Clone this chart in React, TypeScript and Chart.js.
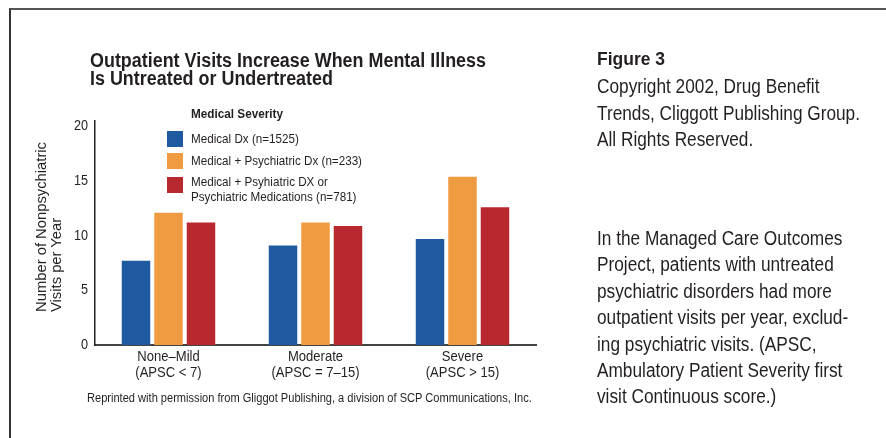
import React, { useEffect, useRef } from "react";
import { Chart, registerables } from "chart.js";

Chart.register(...registerables);

const categories: string[][] = [
  ["None\u2013Mild", "(APSC < 7)"],
  ["Moderate", "(APSC = 7\u201315)"],
  ["Severe", "(APSC > 15)"],
];
const seriesNames: string[] = [
  "Medical Dx (n=1525)",
  "Medical + Psychiatric Dx (n=233)",
  "Medical + Psyhiatric DX or\nPsychiatric Medications (n=781)",
];
const medicalDx: number[] = [7.7, 9.1, 9.7];
const medicalPsychDx: number[] = [12.1, 11.2, 15.4];
const medicalPsychDxOrMeds: number[] = [11.2, 10.9, 12.6];
const yTicks: number[] = [0, 5, 10, 15, 20];

const titleLines = ["Outpatient Visits Increase When Mental Illness", "Is Untreated or Undertreated"];
const yTitleLines = ["Number of Nonpsychiatric", "Visits per Year"];
const legendTitle = "Medical Severity";
const footnote = "Reprinted with permission from Gliggot Publishing, a division of SCP Communications, Inc.";
const figureLabel = "Figure 3";
const copyrightLines = ["Copyright 2002, Drug Benefit", "Trends, Cliggott Publishing Group.", "All Rights Reserved."];
const captionLines = [
  "In the Managed Care Outcomes",
  "Project, patients with untreated",
  "psychiatric disorders had more",
  "outpatient visits per year, exclud-",
  "ing psychiatric visits. (APSC,",
  "Ambulatory Patient Severity first",
  "visit Continuous score.)",
];

const COLORS = ["#1f5aa1", "#ef9b41", "#b8282f"];
const FAMILY = '"Liberation Sans", Arial, sans-serif';
const TEXT = "#231f20";
const CANVAS_SQUEEZE = 0.87;

let measureCtx: CanvasRenderingContext2D | null = null;
function measure(text: string, font: string): number {
  if (!measureCtx) measureCtx = document.createElement("canvas").getContext("2d");
  measureCtx!.font = font;
  return measureCtx!.measureText(text).width;
}

type BlockProps = {
  lines: string[];
  left: number;
  top: number;
  size: number;
  lineHeight: number;
  bold?: boolean;
  target: number;
  refLine?: number;
  rotate?: boolean;
};

function Block({ lines, left, top, size, lineHeight, bold, target, refLine = 0, rotate }: BlockProps) {
  const font = `${bold ? "bold " : ""}${size}px ${FAMILY}`;
  const s = target / measure(lines[refLine], font);
  return (
    <div
      style={{
        position: "absolute",
        left,
        top,
        fontFamily: FAMILY,
        fontSize: size,
        fontWeight: bold ? "bold" : "normal",
        lineHeight: `${lineHeight}px`,
        color: TEXT,
        whiteSpace: "nowrap",
        transformOrigin: "0 0",
        transform: rotate ? `rotate(-90deg) scaleX(${s})` : `scaleX(${s})`,
      }}
    >
      {lines.map((l, i) => (
        <div key={i}>{l}</div>
      ))}
    </div>
  );
}

const squeezePlugin = {
  id: "squeezeText",
  beforeDraw(chart: any) {
    const ctx = chart.ctx;
    const orig = ctx.fillText;
    ctx.__origFillText = orig;
    ctx.fillText = function (t: string, x: number, y: number) {
      this.save();
      this.translate(x, y);
      this.scale(CANVAS_SQUEEZE, 1);
      orig.call(this, t, 0, 0);
      this.restore();
    };
  },
  afterDraw(chart: any) {
    const ctx = chart.ctx;
    if (ctx.__origFillText) {
      ctx.fillText = ctx.__origFillText;
      delete ctx.__origFillText;
    }
  },
};

export default function App() {
  const ref = useRef<HTMLCanvasElement | null>(null);

  useEffect(() => {
    if (!ref.current) return;
    const chart = new Chart(ref.current, {
      type: "bar",
      data: {
        labels: categories,
        datasets: [medicalDx, medicalPsychDx, medicalPsychDxOrMeds].map((d, i) => ({
          label: seriesNames[i],
          data: d,
          backgroundColor: COLORS[i],
          borderWidth: 0,
          categoryPercentage: 0.663,
          barPercentage: 0.877,
        })),
      },
      options: {
        animation: false,
        responsive: false,
        maintainAspectRatio: false,
        events: [],
        layout: { padding: { left: 21, right: 350, top: 121, bottom: 48 } },
        plugins: { legend: { display: false }, tooltip: { enabled: false }, title: { display: false } },
        scales: {
          x: {
            type: "category",
            grid: { display: false, drawTicks: false },
            border: { display: true, color: "#444", width: 2 },
            ticks: { color: TEXT, font: { family: FAMILY, size: 15, lineHeight: 1.07 }, padding: 4, maxRotation: 0, autoSkip: false },
            afterFit: (s: any) => { s.height = 45; },
          },
          y: {
            type: "linear",
            min: 0,
            max: 20.5,
            bounds: "data",
            grid: { display: false, drawTicks: false },
            border: { display: true, color: "#222", width: 1.5 },
            ticks: { stepSize: 5, includeBounds: false, color: TEXT, font: { family: FAMILY, size: 14.5 }, padding: 7 },
            afterBuildTicks: (s: any) => { s.ticks = yTicks.map((v) => ({ value: v })); },
            afterFit: (s: any) => { s.width = 74; },
          },
        },
      },
      plugins: [squeezePlugin],
    });
    return () => chart.destroy();
  }, []);

  const bodyScaleTarget = 263;

  return (
    <div style={{ position: "absolute", left: 0, top: 0, width: 886, height: 438, overflow: "hidden", background: "#fff" }}>
      <div style={{ position: "absolute", left: 9, top: 8, right: -10, bottom: -10, borderTop: "2px solid #555", borderLeft: "2px solid #333" }} />
      <canvas ref={ref} width={886} height={438} style={{ position: "absolute", left: 0, top: 0, width: 886, height: 438 }} />
      <Block lines={titleLines} left={90} top={51} size={19.5} lineHeight={18} bold target={396} />
      <Block lines={yTitleLines} left={34} top={312} size={14.5} lineHeight={15} target={170} rotate />
      <Block lines={[legendTitle]} left={191} top={106} size={13} lineHeight={16} bold target={92} />
      {[131, 153, 177].map((t, i) => (
        <div key={i}>
          <div style={{ position: "absolute", left: 167, top: t, width: 16, height: 16, background: COLORS[i] }} />
          <Block
            lines={seriesNames[i].split("\n")}
            left={191}
            top={i === 2 ? t - 3 : t}
            size={13}
            lineHeight={15}
            target={171 * (measure(seriesNames[i].split("\n")[0], `13px ${FAMILY}`) / measure(seriesNames[1], `13px ${FAMILY}`))}
          />
        </div>
      ))}
      <Block lines={[footnote]} left={87} top={390} size={12.5} lineHeight={16} target={445} />
      <Block lines={[figureLabel]} left={597} top={48} size={18.5} lineHeight={22} bold target={68} />
      <Block lines={copyrightLines} left={597} top={73} size={19.5} lineHeight={26.6} target={bodyScaleTarget} refLine={1} />
      <Block
        lines={captionLines}
        left={597}
        top={225}
        size={19.5}
        lineHeight={26.4}
        target={bodyScaleTarget * (measure(captionLines[0], `19.5px ${FAMILY}`) / measure(copyrightLines[1], `19.5px ${FAMILY}`))}
      />
    </div>
  );
}
